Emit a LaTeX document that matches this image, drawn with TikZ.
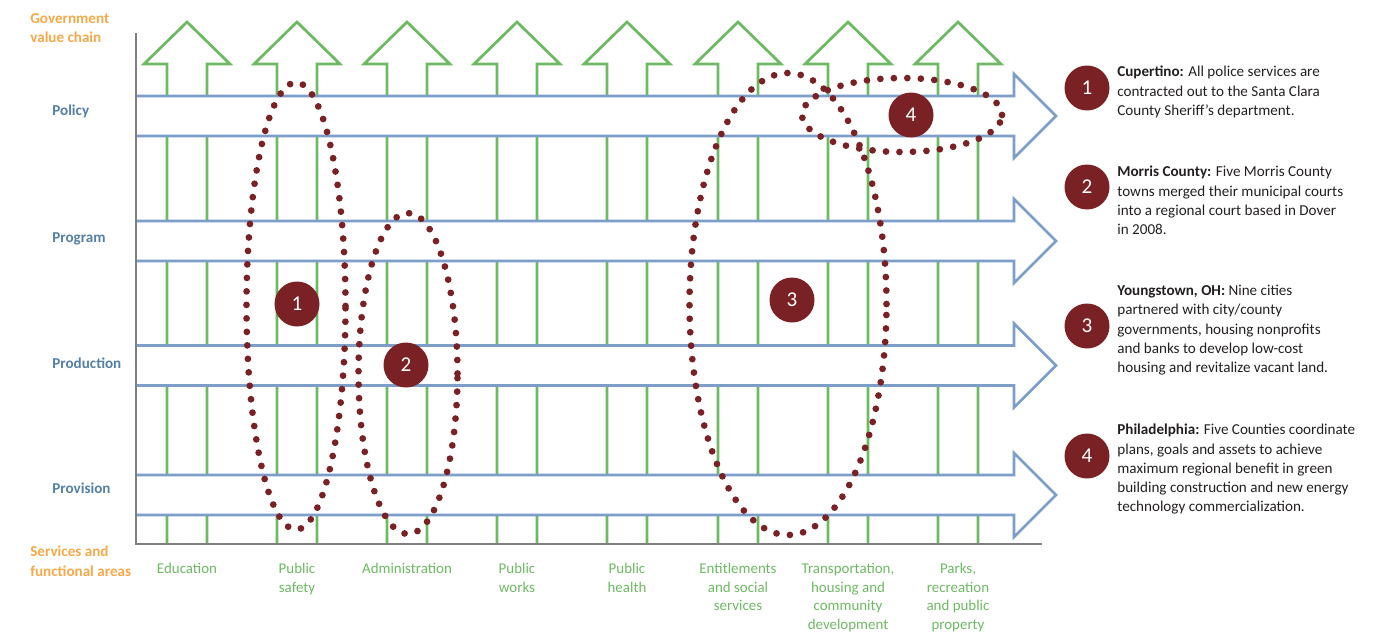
\documentclass[tikz,border=0pt]{standalone}
\usepackage{fontspec}
\setmainfont{Carlito}

\definecolor{chainblue}{RGB}{124,158,201}
\definecolor{labelblue}{RGB}{84,127,166}
\definecolor{areagreen}{RGB}{110,185,100}
\definecolor{chainorange}{RGB}{247,168,72}
\definecolor{caseRed}{RGB}{122,33,37}
\definecolor{axisgray}{RGB}{128,128,128}
\definecolor{notegray}{RGB}{35,31,32}

\tikzset{
  greenarrow/.style={draw=areagreen, line width=0.055cm},
  bluearrow/.style={draw=chainblue, line width=0.055cm, fill=white},
  dotring/.style={draw=caseRed, line width=0.135cm, line cap=round, dash pattern=on 0pt off 0.27cm},
  casedot/.style={circle, fill=caseRed, text=white, minimum size=0.9cm, inner sep=0pt, font=\fontsize{12}{12}\selectfont},
  levellabel/.style={anchor=west, inner sep=0pt, text=labelblue, font=\bfseries\fontsize{8.6}{11}\selectfont},
  chainlabel/.style={anchor=west, align=left, inner sep=0pt, text=chainorange, font=\bfseries\fontsize{8.6}{11.2}\selectfont},
  arealabel/.style={anchor=north, align=center, inner sep=0pt, text=areagreen, font=\fontsize{8.5}{10.6}\selectfont},
  casetext/.style={anchor=north west, align=left, inner sep=0pt, text=notegray, font=\fontsize{8.6}{10.9}\selectfont}
}

\begin{document}
\begin{tikzpicture}
\useasboundingbox (0,0) rectangle (27.84,12.66);

% services (green, upward)
\draw[greenarrow] (3.34,1.78) -- ++(0,9.6) -- ++(-0.46,0) -- ++(0.86,0.84) -- ++(0.86,-0.84) -- ++(-0.46,0) -- ++(0,-9.6);
\draw[greenarrow] (5.54,1.78) -- ++(0,9.6) -- ++(-0.46,0) -- ++(0.86,0.84) -- ++(0.86,-0.84) -- ++(-0.46,0) -- ++(0,-9.6);
\draw[greenarrow] (7.74,1.78) -- ++(0,9.6) -- ++(-0.46,0) -- ++(0.86,0.84) -- ++(0.86,-0.84) -- ++(-0.46,0) -- ++(0,-9.6);
\draw[greenarrow] (9.94,1.78) -- ++(0,9.6) -- ++(-0.46,0) -- ++(0.86,0.84) -- ++(0.86,-0.84) -- ++(-0.46,0) -- ++(0,-9.6);
\draw[greenarrow] (12.14,1.78) -- ++(0,9.6) -- ++(-0.46,0) -- ++(0.86,0.84) -- ++(0.86,-0.84) -- ++(-0.46,0) -- ++(0,-9.6);
\draw[greenarrow] (14.36,1.78) -- ++(0,9.6) -- ++(-0.46,0) -- ++(0.86,0.84) -- ++(0.86,-0.84) -- ++(-0.46,0) -- ++(0,-9.6);
\draw[greenarrow] (16.56,1.78) -- ++(0,9.6) -- ++(-0.46,0) -- ++(0.86,0.84) -- ++(0.86,-0.84) -- ++(-0.46,0) -- ++(0,-9.6);
\draw[greenarrow] (18.76,1.78) -- ++(0,9.6) -- ++(-0.46,0) -- ++(0.86,0.84) -- ++(0.86,-0.84) -- ++(-0.46,0) -- ++(0,-9.6);

% value chain (blue, rightward)
\draw[bluearrow] (2.72,10.74) -- ++(17.56,0) -- ++(0,0.44) -- ++(0.84,-0.84) -- ++(-0.84,-0.84) -- ++(0,0.44) -- ++(-17.56,0);
\draw[bluearrow] (2.72,8.24) -- ++(17.56,0) -- ++(0,0.44) -- ++(0.84,-0.84) -- ++(-0.84,-0.84) -- ++(0,0.44) -- ++(-17.56,0);
\draw[bluearrow] (2.72,5.75) -- ++(17.56,0) -- ++(0,0.44) -- ++(0.84,-0.84) -- ++(-0.84,-0.84) -- ++(0,0.44) -- ++(-17.56,0);
\draw[bluearrow] (2.72,3.16) -- ++(17.56,0) -- ++(0,0.44) -- ++(0.84,-0.84) -- ++(-0.84,-0.84) -- ++(0,0.44) -- ++(-17.56,0);

% axes
\draw[axisgray, line width=0.05cm] (2.72,12.0) -- (2.72,1.78) -- (20.84,1.78);

% dotted groupings
\draw[dotring] (5.92,6.54) ellipse [x radius=0.99, y radius=4.47];
\draw[dotring] (8.16,5.19) ellipse [x radius=0.99, y radius=3.21];
\draw[dotring] (15.76,6.58) ellipse [x radius=1.97, y radius=4.62];
\draw[dotring] (18.04,10.36) ellipse [x radius=2.0, y radius=0.74];

\node (mark1) at (5.94,6.58)[casedot]{1};
\node (mark2) at (8.12,5.36)[casedot]{2};
\node (mark3) at (15.84,6.66)[casedot]{3};
\node (mark4) at (18.22,10.36)[casedot]{4};

% level labels
\node (govchain) at (0.6,12.1)[chainlabel]{Government\\value chain};
\node (policy) at (1.04,10.44)[levellabel]{Policy};
\node (program) at (1.04,7.88)[levellabel]{Program};
\node (production) at (1.04,5.40)[levellabel]{Production};
\node (provision) at (1.04,2.90)[levellabel]{Provision};
\node (services) at (0.6,1.44)[chainlabel]{Services and\\functional areas};

% service areas
\node (education) at (3.74,1.40)[arealabel]{Education};
\node (safety) at (5.94,1.40)[arealabel]{Public\\safety};
\node (admin) at (8.14,1.40)[arealabel]{Administration};
\node (works) at (10.34,1.40)[arealabel]{Public\\works};
\node (health) at (12.54,1.40)[arealabel]{Public\\health};
\node (social) at (14.76,1.40)[arealabel]{Entitlements\\and social\\services};
\node (housing) at (16.96,1.40)[arealabel]{Transportation,\\housing and\\community\\development};
\node (parks) at (19.16,1.40)[arealabel]{Parks,\\recreation\\and public\\property};

% legend
\node (case1) at (21.74,10.9)[casedot]{1};
\node (case2) at (21.74,8.92)[casedot]{2};
\node (case3) at (21.74,6.14)[casedot]{3};
\node (case4) at (21.74,3.54)[casedot]{4};

\node (note1) at (22.34,11.34)[casetext]{\textbf{Cupertino:} All police services are\\contracted out to the Santa Clara\\County Sheriff’s department.};
\node (note2) at (22.34,9.34)[casetext]{\textbf{Morris County:} Five Morris County\\towns merged their municipal courts\\into a regional court based in Dover\\in 2008.};
\node (note3) at (22.34,6.96)[casetext]{\textbf{Youngstown, OH:} Nine cities\\partnered with city/county\\governments, housing nonprofits\\and banks to develop low-cost\\housing and revitalize vacant land.};
\node (note4) at (22.34,4.18)[casetext]{\textbf{Philadelphia:} Five Counties coordinate\\plans, goals and assets to achieve\\maximum regional benefit in green\\building construction and new energy\\technology commercialization.};
\end{tikzpicture}
\end{document}
